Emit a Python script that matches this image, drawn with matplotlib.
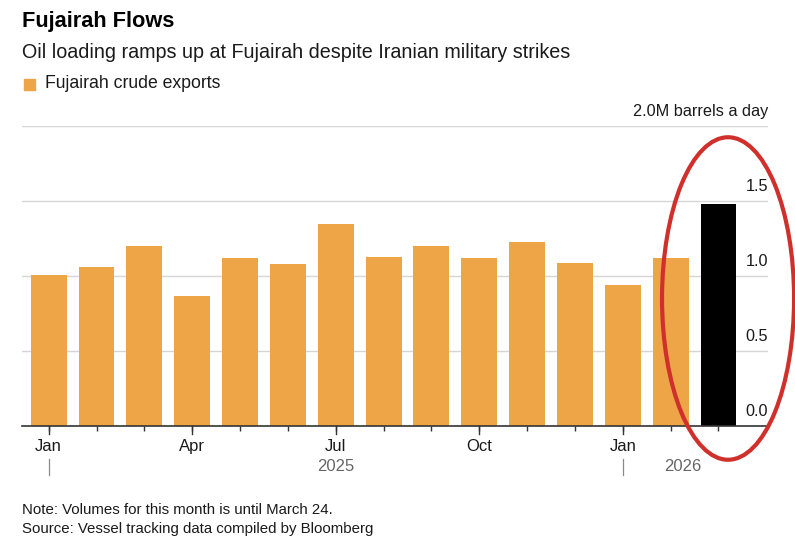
import matplotlib.pyplot as plt
from matplotlib.patches import Ellipse, Rectangle
from matplotlib.transforms import blended_transform_factory

plt.rcParams["font.family"] = ["Liberation Sans", "DejaVu Sans"]

# Fujairah crude exports, million barrels a day, Jan 2025 - Mar 2026
months = ["Jan", "Feb", "Mar", "Apr", "May", "Jun", "Jul", "Aug", "Sep",
          "Oct", "Nov", "Dec", "Jan", "Feb", "Mar"]
exports = [1.01, 1.06, 1.20, 0.87, 1.12, 1.08, 1.35, 1.13, 1.20,
           1.12, 1.23, 1.09, 0.94, 1.12, 1.48]
tick_labels = {0: "Jan", 3: "Apr", 6: "Jul", 9: "Oct", 12: "Jan"}
y_ticks = [0.0, 0.5, 1.0, 1.5, 2.0]
y_tick_labels = ["0.0", "0.5", "1.0", "1.5", "2.0M barrels a day"]
years = ["2025", "2026"]
year_pos = [6, 13.25]
year_starts = [0, 12]

ORANGE = "#eea548"
W, H = 795, 540

fig = plt.figure(figsize=(W / 100, H / 100), dpi=100)
ax = fig.add_axes([22 / W, 1 - 426 / H, (768 - 22) / W, (426 - 126) / H])

x = list(range(len(exports)))
colors = [ORANGE] * (len(exports) - 1) + ["#000000"]
ax.bar(x, exports, width=0.75, color=colors, zorder=2)

ax.set_xlim(-0.558, 15.035)
ax.set_ylim(0, 2.0)

for s in ["top", "left", "right"]:
    ax.spines[s].set_visible(False)
ax.spines["bottom"].set_color("#333333")
ax.spines["bottom"].set_linewidth(1.2)

ax.set_yticks([])
for v in y_ticks[1:]:
    ax.axhline(v, color="#d6d6d6", linewidth=1.0, zorder=1)

ytr = ax.get_yaxis_transform()
for v, lab in zip(y_ticks, y_tick_labels):
    ax.text(1.0, v + 0.045, lab, transform=ytr, ha="right", va="bottom",
            fontsize=11.7, color="#1a1a1a")

# short ticks on every month, longer ones on labelled months
ax.set_xticks(x)
ax.set_xticklabels([""] * len(x))
ax.tick_params(axis="x", length=3.5, width=1, color="#333333")
xtr = blended_transform_factory(ax.transData, fig.transFigure)
for i, lab in tick_labels.items():
    ax.plot([i, i], [1 - 426 / H, 1 - 434 / H], transform=xtr,
            color="#333333", linewidth=1, clip_on=False)
    fig.text(i, 1 - 451 / H, lab, transform=xtr, ha="center", va="baseline",
             fontsize=12, color="#1a1a1a")

for xs in year_starts:
    ax.plot([xs, xs], [1 - 459 / H, 1 - 475 / H], transform=xtr,
            color="#8a8a8a", linewidth=0.9, clip_on=False)
for yr, xp in zip(years, year_pos):
    fig.text(xp, 1 - 471 / H, yr, transform=xtr, ha="center", va="baseline",
             fontsize=12, color="#666666")

# red hand-drawn emphasis around the last month
ell = Ellipse((len(exports) - 1 + 0.2, 0.85), width=2.76, height=2.15,
              fill=False, edgecolor="#d0302c", linewidth=3, clip_on=False,
              zorder=5)
ax.add_patch(ell)

fig.text(22 / W, 1 - 22 / H, "Fujairah Flows", fontsize=15.7, fontweight="bold",
         ha="left", va="center", color="#000000")
fig.text(22 / W, 1 - 53 / H, "Oil loading ramps up at Fujairah despite Iranian military strikes",
         fontsize=14.2, ha="left", va="center", color="#1a1a1a")
fig.patches.append(Rectangle((24 / W, 1 - 90 / H), 11 / W, 11 / H,
                             transform=fig.transFigure, color=ORANGE))
fig.text(45 / W, 1 - 83 / H, "Fujairah crude exports", fontsize=12.7,
         ha="left", va="center", color="#1a1a1a")

fig.text(22 / W, 1 - 510 / H, "Note: Volumes for this month is until March 24.",
         fontsize=10.8, ha="left", va="center", color="#1a1a1a")
fig.text(22 / W, 1 - 529 / H, "Source: Vessel tracking data compiled by Bloomberg",
         fontsize=10.8, ha="left", va="center", color="#1a1a1a")

fig.savefig("out.png", dpi=100)
